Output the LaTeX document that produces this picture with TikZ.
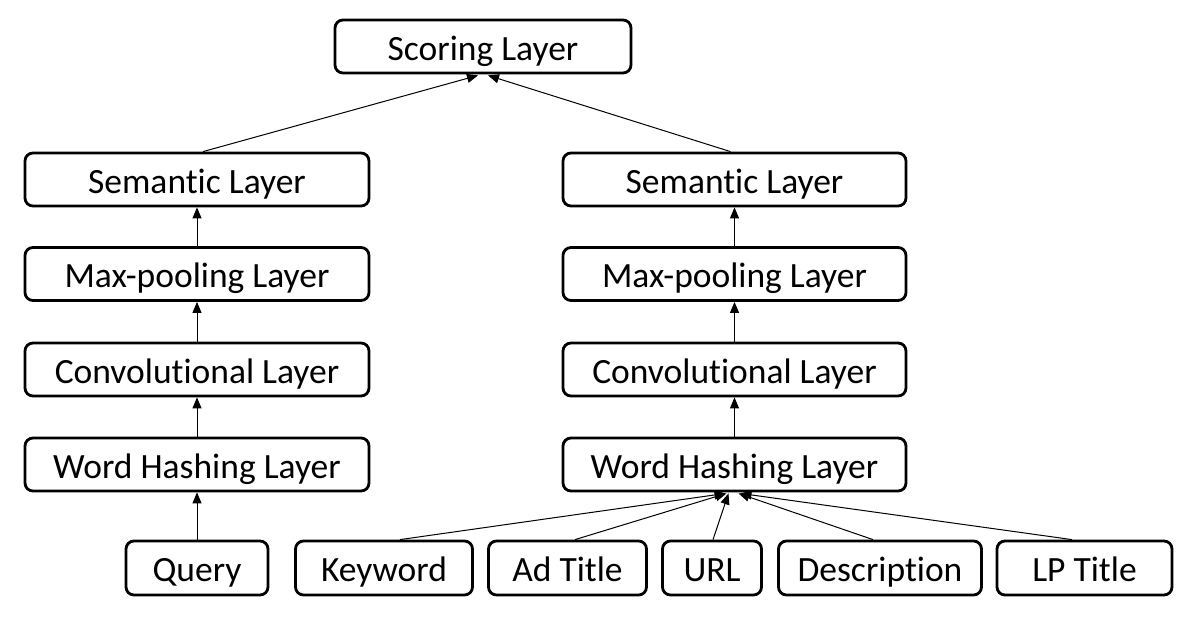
\documentclass[tikz,border=0pt]{standalone}
\usepackage{fontspec}
\setmainfont{Carlito}[Ligatures=NoCommon]
\usetikzlibrary{arrows.meta}
\begin{document}
\begin{tikzpicture}[x=1pt,y=-1pt,
  layer/.style={draw, line width=2.8pt, rounded corners=8pt, inner sep=0pt,
    minimum height=53pt, text height=27pt, text depth=0pt,
    font=\fontsize{35.5}{40}\selectfont, fill=white},
  arr/.style={line width=1pt, -{Triangle[length=11pt,width=9pt]}}]
\useasboundingbox (0,0) rectangle (1189,616);
\node[layer, minimum width=296pt] (score) at (483,46.5) {Scoring Layer};
% left column
\node[layer, minimum width=344pt] (lsem) at (197,179.5) {Semantic Layer};
\node[layer, minimum width=344pt] (lmax) at (197,274) {Max-pooling Layer};
\node[layer, minimum width=344pt] (lconv) at (197,369.5) {Convolutional Layer};
\node[layer, minimum width=344pt] (lwh) at (197,464.5) {Word Hashing Layer};
% right column
\node[layer, minimum width=343pt] (rsem) at (734.5,179.5) {Semantic Layer};
\node[layer, minimum width=343pt] (rmax) at (734.5,274) {Max-pooling Layer};
\node[layer, minimum width=343pt] (rconv) at (734.5,369.5) {Convolutional Layer};
\node[layer, minimum width=343pt] (rwh) at (734.5,464.5) {Word Hashing Layer};
% bottom
\node[layer, minimum width=142pt, minimum height=54pt] (query) at (197,568) {Query};
\node[layer, minimum width=177pt, minimum height=54pt] (kw) at (384,568) {Keyword};
\node[layer, minimum width=158pt, minimum height=54pt] (ad) at (567.5,568) {Ad Title};
\node[layer, minimum width=99pt, minimum height=54pt] (url) at (712,568) {URL};
\node[layer, minimum width=203pt, minimum height=54pt] (desc) at (880,568) {Description};
\node[layer, minimum width=175pt, minimum height=54pt] (lp) at (1084.5,568) {LP Title};
% vertical arrows
\draw[arr] (lmax.north) -- (lsem.south);
\draw[arr] (lconv.north) -- (lmax.south);
\draw[arr] (lwh.north) -- (lconv.south);
\draw[arr] (query.north) -- (lwh.south);
\draw[arr] (rmax.north) -- (rsem.south);
\draw[arr] (rconv.north) -- (rmax.south);
\draw[arr] (rwh.north) -- (rconv.south);
% to scoring
\draw[arr] ([xshift=6pt]lsem.north) -- ([xshift=-5pt,yshift=-1pt]score.south);
\draw[arr] ([xshift=-4pt]rsem.north) -- ([xshift=5pt,yshift=-1pt]score.south);
% to right word hashing
\draw[arr] ([xshift=16pt]kw.north) -- ([xshift=-9pt,yshift=-1pt]rwh.south);
\draw[arr] ([xshift=7.5pt]ad.north) -- ([xshift=-8pt,yshift=-1pt]rwh.south);
\draw[arr] ([xshift=1pt]url.north) -- ([xshift=-6pt,yshift=-1pt]rwh.south);
\draw[arr] ([xshift=-7pt]desc.north) -- ([xshift=4pt,yshift=-1pt]rwh.south);
\draw[arr] ([xshift=-12.5pt]lp.north) -- ([xshift=6pt,yshift=-1pt]rwh.south);
\end{tikzpicture}
\end{document}
